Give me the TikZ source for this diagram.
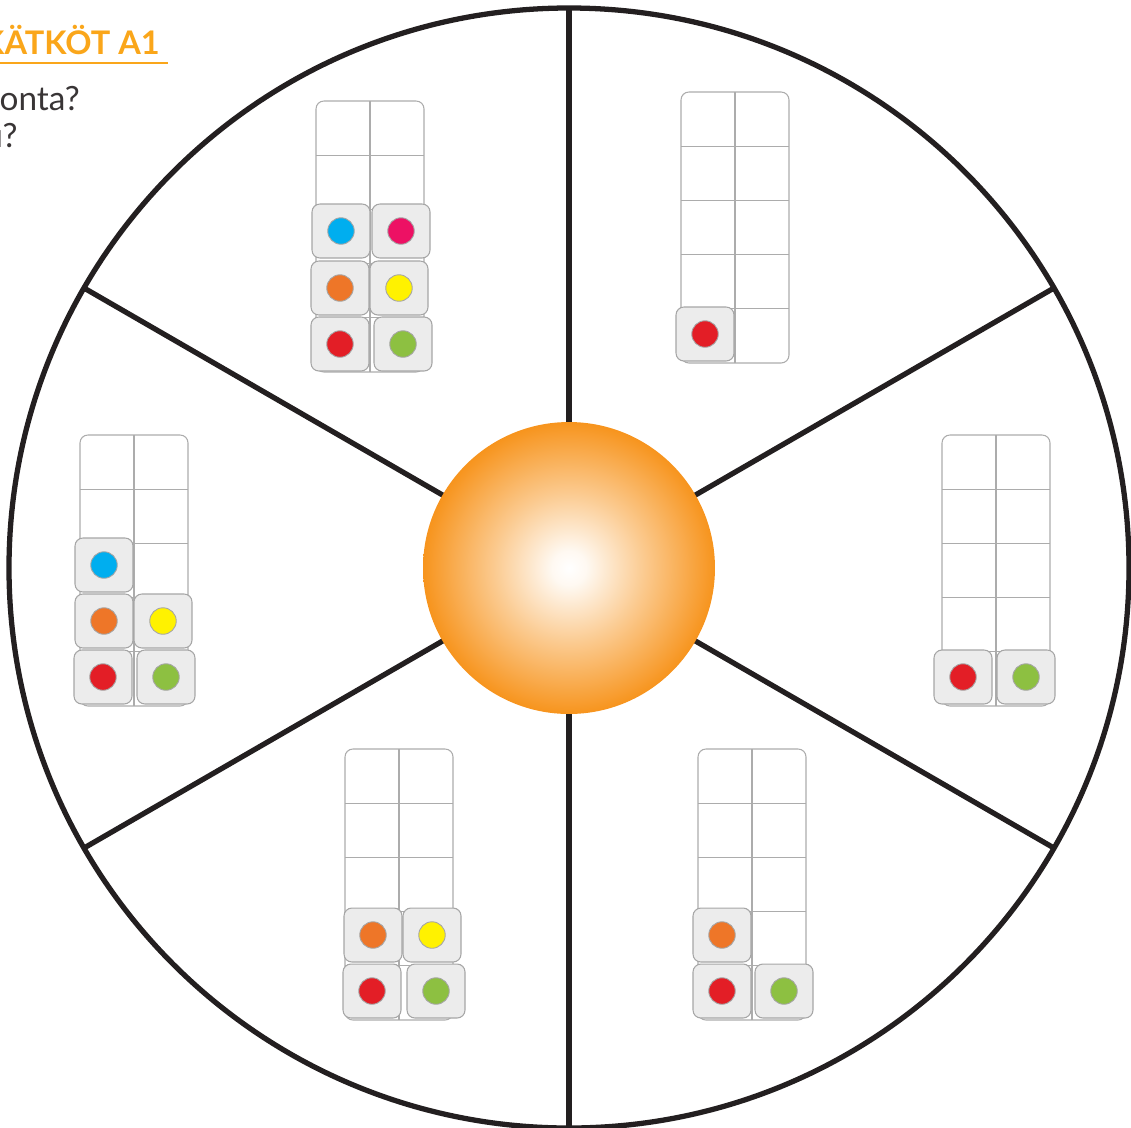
\documentclass[tikz,border=0pt]{standalone}
\usepackage{fontspec}
\setmainfont{Lato}
\usetikzlibrary{calc}

\definecolor{strich}{HTML}{231F20}
\definecolor{titelfarbe}{HTML}{FAA61A}
\definecolor{sonnenfarbe}{HTML}{F7941D}
\definecolor{blau}{HTML}{00AEEF}
\definecolor{pink}{HTML}{ED1164}
\definecolor{oranssi}{HTML}{EE7628}
\definecolor{gelb}{HTML}{FFF200}
\definecolor{rot}{HTML}{E31E26}
\definecolor{gruen}{HTML}{8DC041}

\pgfdeclareradialshading{sonne}{\pgfpoint{0bp}{0bp}}{color(0bp)=(white); color(3bp)=(white!94!sonnenfarbe); color(13bp)=(sonnenfarbe!50!white); color(25bp)=(sonnenfarbe); color(50bp)=(sonnenfarbe)}

\tikzset{
  speiche/.style={draw=strich, line width=3pt},
  gitter/.style={draw=gray!65, line width=0.6pt},
  wuerfel/.style={draw=gray!70, fill=gray!15, rounded corners=4.5pt, minimum width=1.16cm, minimum height=1.08cm, inner sep=0pt, line width=0.6pt},
  punkt/.style={circle, draw=gray!70, fill=#1, minimum size=0.53cm, inner sep=0pt, line width=0.5pt},
}

% Zehnerfeld: linke obere Ecke
\newcommand{\zehnerfeld}[2]{%
  \draw[gitter, rounded corners=4.5pt] (#1,#2) rectangle ++(108,271);
  \draw[gitter] (#1+54,#2) -- ++(0,271);
  \foreach \r in {1,...,4} \draw[gitter] (#1,#2+54.2*\r) -- ++(108,0);
}
% Wuerfel: Name, Mitte, Farbe
\newcommand{\kuutio}[4]{%
  \node[wuerfel] (#1) at (#2,#3) {};
  \node[punkt=#4] (#1p) at (#1) {};
}

\begin{document}
\begin{tikzpicture}[x=0.02cm, y=-0.02cm]
    \useasboundingbox (0,0) rectangle (1131,1127);
    \clip (0,0) rectangle (1131,1127);
    % Ueberschrift (links abgeschnitten):
    \node[anchor=base east, text=titelfarbe, font=\bfseries\fontsize{18.5}{21}\selectfont, inner sep=0pt] (titel) at (160,54) {KÄTKÖT A1};
    \draw[titelfarbe, line width=1.6pt] (0,63) -- (168,63); % Unterstrich
    \node[anchor=base east, text=strich!90, font=\fontsize{19}{22}\selectfont, inner sep=0pt] (frage1) at (80,110) {onta?};
    \node[anchor=base east, text=strich!90, font=\fontsize{19}{22}\selectfont, inner sep=0pt] (frage2) at (18,147) {u?};
    % Rad:
    \coordinate (M) at (569,568);
    \draw[speiche] (M) circle (560);
    \foreach \a in {30,90,...,330} \draw[speiche] (M) -- ($(M)+(\a:560)$);
    \node[circle, minimum size=5.84cm, inner sep=0pt, shading=sonne] (sonne) at (M) {};
    % Zehnerfelder:
    \zehnerfeld{316}{101} % oben links
    \zehnerfeld{681}{92}  % oben rechts
    \zehnerfeld{942}{435} % rechts
    \zehnerfeld{698}{749} % unten rechts
    \zehnerfeld{345}{749} % unten links
    \zehnerfeld{80}{435}  % links
    % Wuerfel oben links:
    \kuutio{a1}{341}{231}{blau}
    \kuutio{a2}{401}{231}{pink}
    \kuutio{a3}{340}{288}{oranssi}
    \kuutio{a4}{399}{288}{gelb}
    \kuutio{a5}{340}{344}{rot}
    \kuutio{a6}{403}{344}{gruen}
    % oben rechts:
    \kuutio{b1}{705}{334}{rot}
    % rechts:
    \kuutio{c1}{963}{677}{rot}
    \kuutio{c2}{1026}{677}{gruen}
    % unten rechts:
    \kuutio{d1}{722}{935}{oranssi}
    \kuutio{d2}{722}{991}{rot}
    \kuutio{d3}{784}{991}{gruen}
    % unten links:
    \kuutio{e1}{373}{935}{oranssi}
    \kuutio{e2}{432}{935}{gelb}
    \kuutio{e3}{372}{991}{rot}
    \kuutio{e4}{436}{991}{gruen}
    % links:
    \kuutio{f1}{104}{565}{blau}
    \kuutio{f2}{104}{621}{oranssi}
    \kuutio{f3}{163}{621}{gelb}
    \kuutio{f4}{103}{677}{rot}
    \kuutio{f5}{166}{677}{gruen}
\end{tikzpicture}
\end{document}
